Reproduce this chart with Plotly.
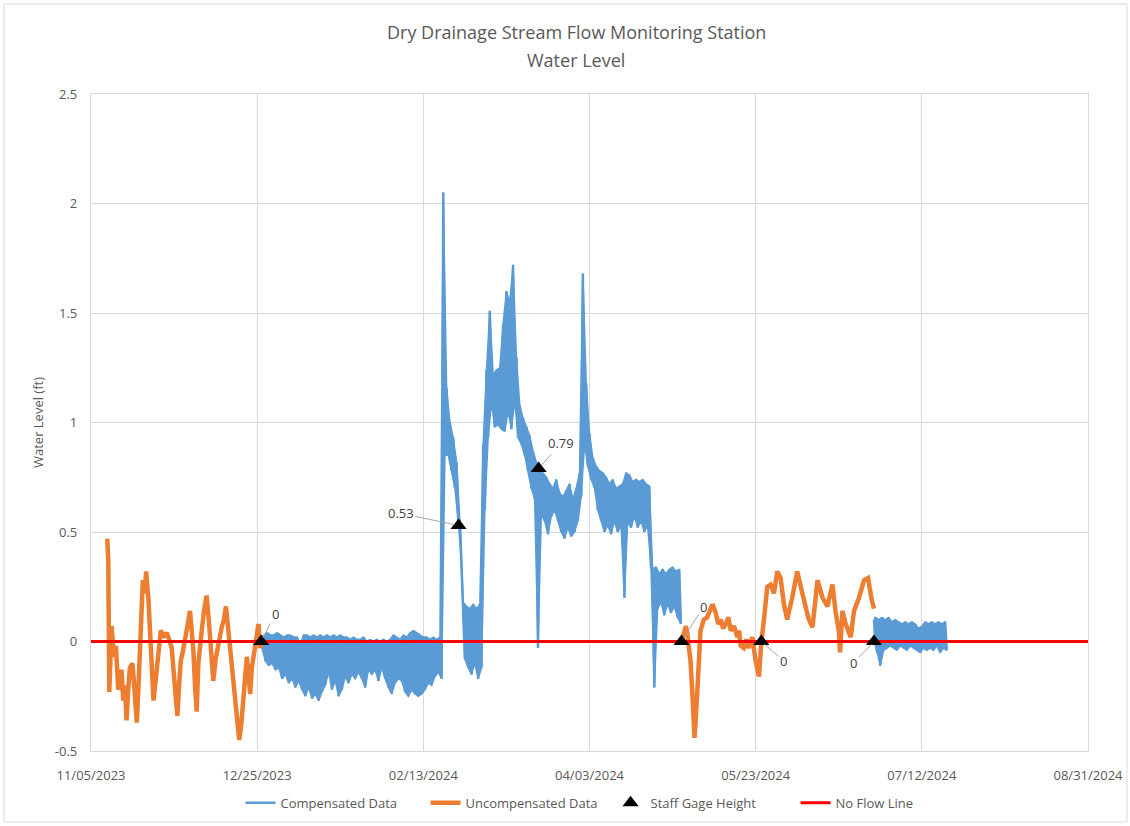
import pandas as pd
import plotly.graph_objects as go

START = pd.Timestamp("2023-11-05")

# ---------------- data (days since 11/05/2023) ----------------
# Compensated data, daily high / low readings
comp_a_day = [51.3] + list(range(52, 178))
comp_a_hi = [0.02, 0.03, 0.04, 0.03, 0.03, 0.04, 0.03, 0.02, 0.03, 0.03,
             0.02, 0.02, -0.01, 0.03, 0.03, 0.02, 0.03, 0.02, 0.03, 0.02,
             0.03, 0.02, 0.03, 0.02, 0.03, 0.02, 0.02, 0.01, 0.02, 0.01,
             0.01, 0.02, 0.0, 0.01, 0.0, 0.01, 0.0, 0.01, 0.0, 0.01,
             0.03, 0.02, 0.01, 0.03, 0.02, 0.04, 0.05, 0.04, 0.03, 0.02,
             0.02, 0.01, 0.02, 0.01, 0.02, 2.05,
             1.16, 1.0, 0.93, 0.82, 0.55, 0.18, 0.16, 0.15, 0.17, 0.15,
             0.17, 0.9, 1.24, 1.51, 1.22, 1.24, 1.25, 1.45, 1.6, 1.55,
             1.72, 1.3, 1.08, 1.02, 0.98, 0.94, 0.87, 0.82, 0.8, 0.77,
             0.75, 0.72, 0.70, 0.74, 0.68, 0.66, 0.69, 0.72, 0.65, 0.70,
             0.77, 1.68, 1.18, 0.95, 0.84, 0.80, 0.78, 0.77, 0.75, 0.72,
             0.74, 0.70, 0.71, 0.72, 0.77, 0.76, 0.73, 0.74, 0.73, 0.74,
             0.72, 0.71, 0.33, 0.34, 0.31, 0.33, 0.31, 0.33, 0.34, 0.32,
             0.33]
comp_a_lo = [-0.05, -0.09, -0.11, -0.10, -0.13, -0.12, -0.17, -0.15, -0.19, -0.17,
             -0.21, -0.18, -0.22, -0.25, -0.21, -0.26, -0.24, -0.27, -0.23, -0.20,
             -0.14, -0.22, -0.18, -0.25, -0.22, -0.16, -0.19, -0.15, -0.17, -0.14,
             -0.17, -0.21, -0.13, -0.15, -0.13, -0.18, -0.12, -0.17, -0.21, -0.24,
             -0.19, -0.17, -0.18, -0.23, -0.25, -0.22, -0.24, -0.25, -0.24, -0.22,
             -0.19, -0.20, -0.16, -0.14, -0.17, 0.85,
             0.85, 0.78, 0.70, 0.55, 0.35, -0.08, -0.12, -0.15, -0.10, -0.17,
             -0.12, 0.60, 0.93, 1.09, 0.98, 0.99, 0.97, 0.96, 1.05, 0.97,
             1.10, 0.93, 0.90, 0.85, 0.78, 0.70, 0.65, -0.03, 0.58, 0.55,
             0.49, 0.57, 0.60, 0.55, 0.50, 0.47, 0.52, 0.48, 0.50, 0.55,
             0.66, 0.90, 0.80, 0.74, 0.70, 0.60, 0.55, 0.50, 0.53, 0.49,
             0.55, 0.50, 0.53, 0.20, 0.55, 0.52, 0.57, 0.52, 0.55, 0.50,
             0.53, 0.34, -0.21, 0.15, 0.18, 0.12, 0.17, 0.13, 0.16, 0.11,
             0.08]

comp_b_day = [235.6] + list(range(236, 258))
comp_b_hi = [0.10, 0.11, 0.10, 0.11, 0.10, 0.11, 0.09, 0.10, 0.09, 0.08,
             0.09, 0.08, 0.09, 0.08, 0.06, 0.07, 0.09, 0.08, 0.09, 0.08,
             0.09, 0.08, 0.09]
comp_b_lo = [-0.02, -0.05, -0.11, -0.04, -0.03, -0.02, -0.03, -0.04, -0.02, -0.03,
             -0.04, -0.02, -0.03, -0.04, -0.05, -0.03, -0.04, -0.03, -0.04, -0.02,
             -0.05, -0.03, -0.04]

# Uncompensated data
uncomp_a_day = [4.9, 5.2, 5.5, 6.2, 6.9, 7.5, 8.2, 8.7, 9.2, 9.7, 10.2, 10.7, 11.2,
                11.7, 12.5, 13.1, 13.8, 14.3, 14.8, 15.6, 16.1, 16.6, 17.3, 18.0,
                18.8, 19.3, 19.8, 20.4, 21.0, 21.9, 22.8, 23.5, 24.3, 25.2, 26.0,
                26.5, 27.0, 27.7, 28.3, 29.0, 29.8, 30.3, 30.8, 31.3, 31.8, 32.3,
                32.8, 33.4, 34.0, 34.8, 35.6, 36.2, 36.8, 37.5, 38.3, 38.9, 39.4,
                40.0, 40.6, 41.0, 41.4, 41.9, 42.4, 42.9, 43.4, 44.0, 44.6, 45.2,
                45.9, 46.4, 46.9, 47.4, 47.9, 48.4, 48.9, 49.6, 50.4, 50.9, 51.2]
uncomp_a_val = [0.47, 0.37, -0.23, 0.07, -0.07, -0.02, -0.22, -0.15, -0.13, -0.27,
                -0.2, -0.36, -0.22, -0.12, -0.10, -0.2, -0.37, -0.2, -0.05, 0.28,
                0.22, 0.32, 0.19, 0.0, -0.27, -0.2, -0.12, 0.0, 0.05, 0.02, 0.04,
                0.01, -0.03, -0.2, -0.34, -0.2, -0.09, -0.04, 0.0, 0.07, 0.14, 0.05,
                -0.04, -0.2, -0.32, -0.1, 0.0, 0.06, 0.14, 0.21, 0.07, -0.05, -0.18,
                -0.08, -0.01, 0.03, 0.07, 0.1, 0.16, 0.1, 0.04, -0.03, -0.09, -0.17,
                -0.27, -0.38, -0.45, -0.38, -0.27, -0.15, -0.07, -0.15, -0.24, -0.12,
                -0.06, 0.02, 0.08, -0.03, 0.0]

uncomp_b_day = [177.7, 178.3, 179.0, 179.4, 180.0, 180.4, 181.0, 181.6, 182.0, 182.4,
                183.0, 183.4, 184.4, 185.4, 186.2, 187.0, 188.0, 188.7, 189.5, 190.2,
                191.0, 191.8, 192.5, 193.5, 194.5, 195.0, 195.5, 196.4, 197.2, 197.9,
                199.0, 200.0, 201.0, 201.7, 202.5, 203.5, 204.5, 205.5, 206.5, 207.5,
                208.5, 209.5, 210.2, 211.0, 212.5, 213.5, 214.2, 215.0, 216.0, 217.1,
                218.6, 219.3, 220.1, 221.6, 223.1, 224.1, 225.0, 225.4, 226.1, 227.1,
                228.6, 229.6, 231.1, 232.6, 233.8, 234.8, 235.6]
uncomp_b_val = [0.0, 0.03, 0.07, 0.04, -0.06, -0.09, -0.25, -0.44, -0.35, -0.21,
                -0.05, 0.05, 0.1, 0.11, 0.14, 0.17, 0.13, 0.08, 0.1, 0.06,
                0.08, 0.11, 0.05, 0.07, 0.02, 0.05, -0.02, -0.03, 0.01, -0.03,
                0.02, -0.09, -0.16, 0.0, 0.1, 0.25, 0.26, 0.22, 0.32, 0.29,
                0.17, 0.1, 0.15, 0.2, 0.32, 0.25, 0.2, 0.16, 0.1, 0.065,
                0.28, 0.24, 0.2, 0.16, 0.26, 0.13, 0.05, -0.05, 0.14, 0.08,
                0.02, 0.14, 0.2, 0.28, 0.29, 0.2, 0.15]

# Staff gage readings
staff_day = [51.2, 110.6, 134.7, 177.7, 201.7, 235.6]
staff_val = [0.0, 0.53, 0.79, 0.0, 0.0, 0.0]
staff_label = ["0", "0.53", "0.79", "0", "0", "0"]

noflow_day = [0, 300]
noflow_val = [0.0, 0.0]

tick_dates = ["2023-11-05", "2023-12-25", "2024-02-13", "2024-04-03",
              "2024-05-23", "2024-07-12", "2024-08-31"]
y_ticks = [-0.5, 0, 0.5, 1, 1.5, 2, 2.5]
y_tick_text = ["-0.5", "0", "0.5", "1", "1.5", "2", "2.5"]


# ---------------- helpers ----------------
def to_date(d):
    return (START + pd.Timedelta(days=d)).strftime("%Y-%m-%d %H:%M:%S")


def band_line(days, hi, lo):
    xs, ys = [], []
    for d, h, l in zip(days, hi, lo):
        xs += [to_date(d), to_date(d + 0.5)]
        ys += [h, l]
    return xs, ys


def band_poly(days, hi, lo):
    xs = [to_date(d) for d in days] + [to_date(d + 0.5) for d in reversed(days)]
    ys = list(hi) + list(reversed(lo))
    return xs, ys


cax, cay = band_line(comp_a_day, comp_a_hi, comp_a_lo)
cbx, cby = band_line(comp_b_day, comp_b_hi, comp_b_lo)
comp_x = cax + [None] + cbx
comp_y = cay + [None] + cby

pax, pay = band_poly(comp_a_day, comp_a_hi, comp_a_lo)
pbx, pby = band_poly(comp_b_day, comp_b_hi, comp_b_lo)
poly_x = pax + [None] + pbx
poly_y = pay + [None] + pby

unc_x = [to_date(d) for d in uncomp_a_day] + [None] + [to_date(d) for d in uncomp_b_day]
unc_y = uncomp_a_val + [None] + uncomp_b_val

GRAY = "#595959"
FONT = "Open Sans"
BLUE = "#5b9bd5"

fig = go.Figure()
fig.add_trace(go.Scatter(x=poly_x, y=poly_y, mode="lines", fill="toself",
                         fillcolor=BLUE, line=dict(color=BLUE, width=1.5),
                         showlegend=False, hoverinfo="skip"))
fig.add_trace(go.Scatter(x=comp_x, y=comp_y, mode="lines", name="Compensated Data",
                         line=dict(color=BLUE, width=2.5), legendrank=1,
                         connectgaps=False))
fig.add_trace(go.Scatter(x=unc_x, y=unc_y, mode="lines", name="Uncompensated Data",
                         line=dict(color="#ed7d31", width=4.5), legendrank=2,
                         connectgaps=False))
fig.add_trace(go.Scatter(x=[to_date(d) for d in noflow_day], y=noflow_val, mode="lines",
                         name="No Flow Line", line=dict(color="#ff0000", width=3),
                         legendrank=4))
fig.add_trace(go.Scatter(x=[to_date(d) for d in staff_day], y=staff_val, mode="markers",
                         name="Staff Gage Height",
                         marker=dict(symbol="triangle-up", color="black", size=14),
                         legendrank=3))

# data labels with leader lines
offsets = [(14, -28), (-58, -12), (22, -25), (22, -35), (22, 19), (-20, 21)]
for d, v, lab, (ax, ay) in zip(staff_day, staff_val, staff_label, offsets):
    fig.add_annotation(x=to_date(d), y=v, text=lab, showarrow=True, arrowhead=0,
                       arrowwidth=1, arrowcolor="#a6a6a6", ax=ax, ay=ay,
                       standoff=4, font=dict(family=FONT, size=13, color="#404040"))

# title lines
fig.add_annotation(x=0.4865, y=1.0944, xref="paper", yref="paper", showarrow=False,
                   text="Dry Drainage Stream Flow Monitoring Station",
                   font=dict(family=FONT, size=18, color=GRAY), yanchor="middle")
fig.add_annotation(x=0.4865, y=1.0518, xref="paper", yref="paper", showarrow=False,
                   text="Water Level",
                   font=dict(family=FONT, size=18, color=GRAY), yanchor="middle")

# outer chart border
fig.add_shape(type="rect", xref="paper", yref="paper", x0=-0.0873, x1=1.0391,
              y0=-0.108, y1=1.137, line=dict(color="#d9d9d9", width=1), layer="below")

fig.update_layout(
    width=1130, height=826,
    margin=dict(l=91, r=42, t=94, b=75, autoexpand=False),
    paper_bgcolor="white", plot_bgcolor="white",
    font=dict(family=FONT, color=GRAY, size=13),
    showlegend=True,
    legend=dict(orientation="h", x=0.15, xanchor="left",
                yref="container", y=0.028, yanchor="middle",
                font=dict(family=FONT, size=13, color=GRAY),
                traceorder="normal", entrywidth=140, entrywidthmode="pixels",
                bgcolor="rgba(0,0,0,0)"),
)
fig.update_xaxes(type="date", range=[tick_dates[0], tick_dates[-1]],
                 tickvals=tick_dates,
                 ticktext=[pd.Timestamp(t).strftime("%m/%d/%Y") for t in tick_dates],
                 showgrid=True, gridcolor="#d9d9d9", gridwidth=1.3,
                 showline=True, linecolor="#d9d9d9", linewidth=1.3, mirror=True,
                 zeroline=False, ticks="", ticklabelstandoff=12, automargin=False,
                 tickfont=dict(family=FONT, size=13, color=GRAY))
fig.update_yaxes(range=[-0.5, 2.5], tickvals=y_ticks, ticktext=y_tick_text,
                 showgrid=True, gridcolor="#d9d9d9", gridwidth=1.3,
                 showline=True, linecolor="#d9d9d9", linewidth=1.3, mirror=True,
                 zeroline=False, ticks="", ticklabelstandoff=10, automargin=False,
                 title=dict(text="Water Level (ft)", standoff=8,
                            font=dict(family=FONT, size=13, color=GRAY)),
                 tickfont=dict(family=FONT, size=13, color=GRAY))

fig.write_html("out.html", config={"displayModeBar": False},
               post_script="document.body.style.margin='0px';")
